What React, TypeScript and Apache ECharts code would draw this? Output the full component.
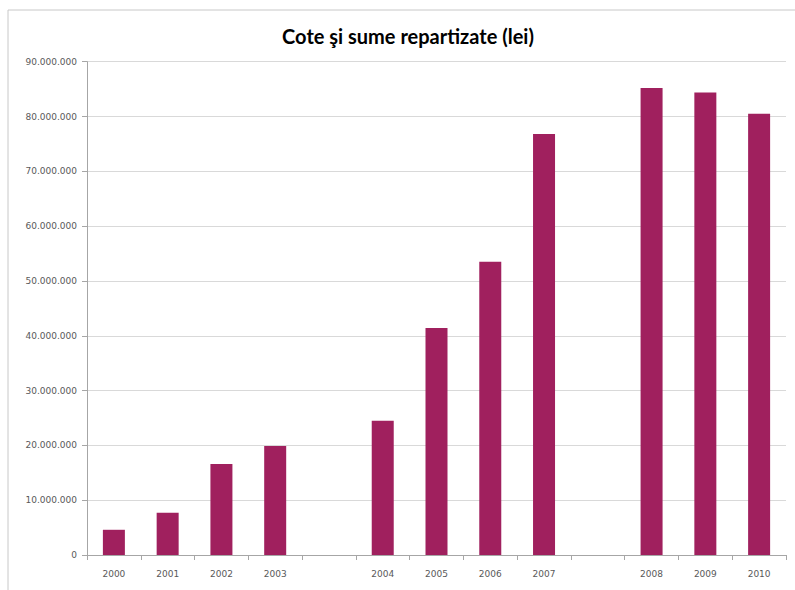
import React, { useEffect, useRef } from "react";
import * as echarts from "echarts";

const categories = ["2000", "2001", "2002", "2003", "", "2004", "2005", "2006", "2007", "", "2008", "2009", "2010"];
const values: (number | null)[] = [
  4600000, 7700000, 16600000, 19900000, null, 24500000, 41400000, 53500000, 76800000, null, 85200000, 84400000, 80500000,
];
const titleText = "Cote şi sume repartizate (lei)";

function fmt(v: number): string {
  return String(Math.round(v)).replace(/\B(?=(\d{3})+(?!\d))/g, ".");
}

export default function App() {
  const ref = useRef<HTMLDivElement>(null);
  useEffect(() => {
    if (!ref.current) return;
    const chart = echarts.init(ref.current, null, { renderer: "svg" });
    chart.setOption({
      animation: false,
      backgroundColor: "#ffffff",
      title: {
        text: titleText,
        left: 403,
        textAlign: "center",
        top: 21,
        textStyle: { fontFamily: "Lato", fontWeight: "bold", fontSize: 20, color: "#000000" },
      },
      graphic: [
        {
          type: "rect",
          shape: { x: 8, y: 10, width: 820, height: 620 },
          style: { fill: "none", stroke: "#c8c8c8", lineWidth: 1 },
          silent: true,
        },
      ],
      grid: { left: 87, right: 9, top: 61.7, bottom: 35, containLabel: false },
      xAxis: {
        type: "category",
        data: categories,
        boundaryGap: true,
        axisLine: { lineStyle: { color: "#a6a6a6" } },
        axisTick: { show: true, alignWithLabel: false, length: 5, lineStyle: { color: "#a6a6a6" }, interval: 0 },
        axisLabel: { color: "#595959", fontSize: 9, fontFamily: "DejaVu Sans", margin: 14, interval: 0 },
      },
      yAxis: {
        type: "value",
        min: 0,
        max: 90000000,
        interval: 10000000,
        axisLine: { show: true, lineStyle: { color: "#a6a6a6" } },
        axisTick: { show: true, length: 5, lineStyle: { color: "#a6a6a6" } },
        splitLine: { lineStyle: { color: "#d9d9d9" } },
        axisLabel: { color: "#595959", fontSize: 9, fontFamily: "DejaVu Sans", margin: 10, formatter: (v: number) => fmt(v) },
      },
      series: [
        {
          type: "bar",
          data: values,
          barWidth: 22,
          itemStyle: { color: "#A0205E" },
        },
      ],
    });
    return () => chart.dispose();
  }, []);
  return <div ref={ref} style={{ position: "fixed", left: 0, top: 0, width: 795, height: 590 }} />;
}
